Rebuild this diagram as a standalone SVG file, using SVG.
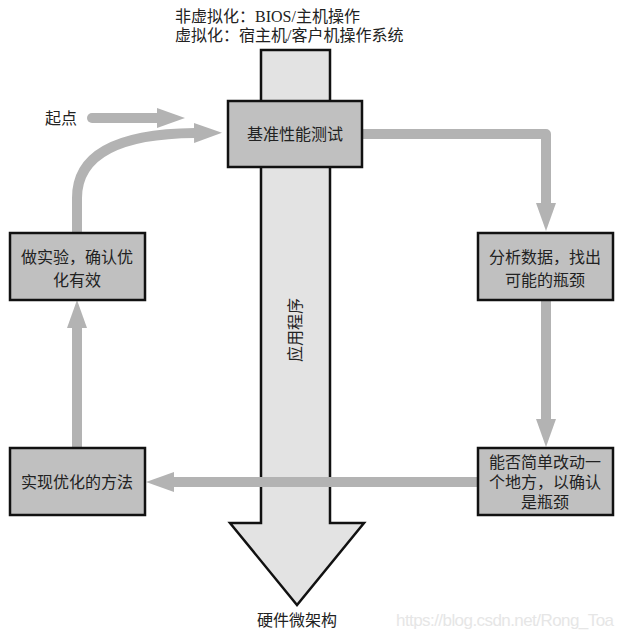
<svg xmlns="http://www.w3.org/2000/svg" width="624" height="636" viewBox="0 0 624 636">
<defs>
<style>
.box{fill:#c0c0c0;stroke:#111;stroke-width:2.5}
.t{font-family:"Liberation Serif","Noto Sans CJK SC",serif;font-size:16px;fill:#222;text-anchor:middle}
.tl{font-family:"Liberation Serif","Noto Sans CJK SC",serif;font-size:16px;fill:#222}
.c{fill:none;stroke:#b3b3b3;stroke-width:10;stroke-linecap:round;stroke-linejoin:round}
</style>
<marker id="ah" markerUnits="userSpaceOnUse" markerWidth="28" markerHeight="20" viewBox="0 0 28 20" refX="1" refY="10" orient="auto">
<path d="M0,0 L28,10 L0,20 Z" fill="#b3b3b3"/>
</marker>
</defs>
<rect width="624" height="636" fill="#fff"/>
<g id="labels">
<text class="tl" x="175" y="22">非虚拟化：BIOS/主机操作</text>
<text class="tl" x="175" y="41">虚拟化：宿主机/客户机操作系统</text>
<text class="tl" x="45" y="124">起点</text>
<text class="t" x="297" y="626">硬件微架构</text>
<text x="614" y="626" text-anchor="end" font-family="Liberation Sans, Arial, sans-serif" font-size="17" fill="#e6e6e6" textLength="218">https://blog.csdn.net/Rong_Toa</text>
</g>
<g id="stack">
<path d="M261,50 H330 V523 H364 L297,605 L230,523 H261 Z" fill="#e3e3e3" stroke="#111" stroke-width="2.5" stroke-linejoin="miter"/>
<text class="t" font-size="15" transform="translate(301,330) rotate(-90)">应用程序</text>
</g>
<g id="connectors">
<path class="c" d="M92,118 H158" marker-end="url(#ah)"/>
<path class="c" d="M77,233 V198 Q77,134 195,133" marker-end="url(#ah)"/>
<path class="c" d="M362,134 H546 V204" marker-end="url(#ah)"/>
<path class="c" d="M546,300 V420" marker-end="url(#ah)"/>
<path class="c" d="M478,482 H173" marker-end="url(#ah)"/>
<path class="c" d="M77,448 V327" marker-end="url(#ah)"/>
</g>
<g id="n1">
<rect class="box" x="228" y="101" width="134" height="66"/>
<text class="t" x="295" y="140">基准性能测试</text>
</g>
<g id="n2">
<rect class="box" x="478" y="233" width="135" height="67"/>
<text class="t" x="545" y="263">分析数据，找出</text>
<text class="t" x="545" y="286">可能的瓶颈</text>
</g>
<g id="n3">
<rect class="box" x="478" y="448" width="135" height="67"/>
<text class="t" x="545" y="468">能否简单改动一</text>
<text class="t" x="545" y="488">个地方，以确认</text>
<text class="t" x="545" y="508">是瓶颈</text>
</g>
<g id="n4">
<rect class="box" x="10" y="448" width="135" height="67"/>
<text class="t" x="77" y="488">实现优化的方法</text>
</g>
<g id="n5">
<rect class="box" x="10" y="233" width="135" height="67"/>
<text class="t" x="77" y="263">做实验，确认优</text>
<text class="t" x="77" y="286">化有效</text>
</g>
</svg>
